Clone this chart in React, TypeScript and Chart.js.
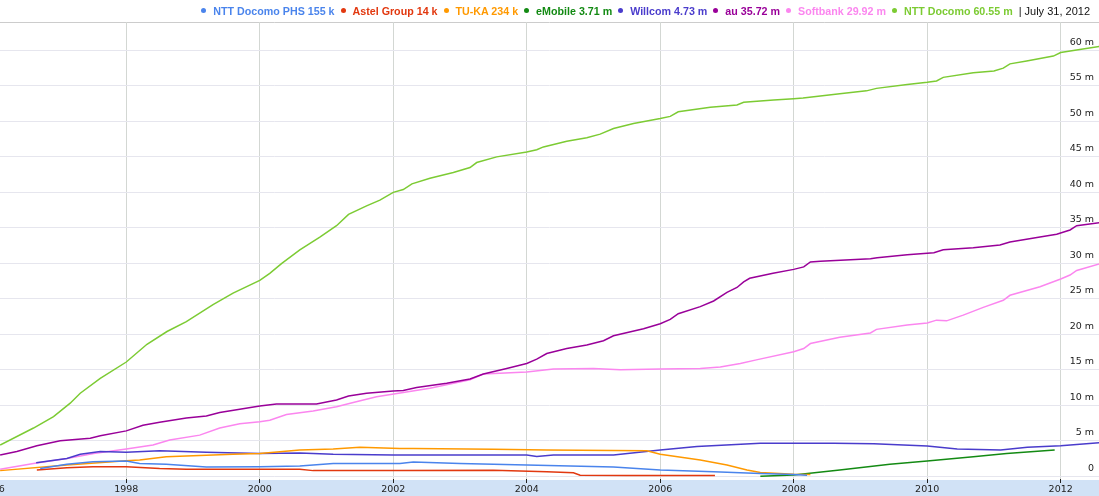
import React, { useEffect, useRef } from "react";
import { Chart, registerables } from "chart.js";

Chart.register(...registerables);

// [year, millions of subscribers]
const docomoPhs: [number, number][] = [
  [1996.71, 1.1], [1997.11, 1.7], [1997.5, 2.05], [1998.0, 2.15], [1998.2, 1.8], [1998.6, 1.7],
  [1999.2, 1.3], [2000.0, 1.35], [2000.6, 1.45], [2001.1, 1.8], [2002.1, 1.8], [2002.3, 2.0],
  [2003.0, 1.8], [2004.0, 1.6], [2005.3, 1.3], [2006.0, 0.9], [2006.8, 0.65], [2007.5, 0.4],
  [2008.0, 0.25], [2008.2, 0.16],
];
const astel: [number, number][] = [
  [1996.66, 0.9], [1997.11, 1.2], [1997.5, 1.35], [1998.0, 1.35], [1998.5, 1.1], [1998.9, 1.0],
  [2000.6, 1.0], [2000.8, 0.8], [2002.1, 0.8], [2003.5, 0.85], [2004.3, 0.65], [2004.7, 0.5],
  [2004.8, 0.15], [2005.5, 0.12], [2006.82, 0.1],
];
const tuka: [number, number][] = [
  [1996.11, 0.8], [1997.11, 1.6], [1998.0, 2.2], [1998.2, 2.3], [1998.6, 2.75], [1999.6, 3.1],
  [2000.0, 3.2], [2000.6, 3.7], [2001.1, 3.85], [2001.5, 4.1], [2002.1, 3.9], [2002.3, 3.9],
  [2003.5, 3.8], [2004.3, 3.7], [2005.8, 3.6], [2006.0, 3.1], [2006.6, 2.3], [2007.0, 1.6],
  [2007.3, 0.9], [2007.5, 0.55], [2008.0, 0.3], [2008.25, 0.25],
];
const emobile: [number, number][] = [
  [2007.5, 0.0], [2008.0, 0.2], [2008.69, 0.9], [2009.44, 1.7], [2010.0, 2.15], [2010.69, 2.76],
  [2011.19, 3.2], [2011.91, 3.71],
];
const willcom: [number, number][] = [
  [1996.65, 1.9], [1997.11, 2.5], [1997.31, 3.1], [1997.61, 3.5], [1998.0, 3.4], [1998.5, 3.6],
  [1999.2, 3.4], [2000.0, 3.2], [2000.6, 3.3], [2001.1, 3.1], [2002.0, 3.0], [2003.0, 3.0],
  [2004.0, 3.0], [2004.15, 2.8], [2004.4, 3.0], [2005.3, 3.0], [2006.0, 3.7], [2006.55, 4.2],
  [2007.5, 4.65], [2008.0, 4.65], [2008.6, 4.65], [2009.2, 4.6], [2010.0, 4.27], [2010.45, 3.85],
  [2011.1, 3.7], [2011.5, 4.1], [2012.0, 4.3], [2012.58, 4.73],
];
const au: [number, number][] = [
  [1996.11, 3.0], [1996.36, 3.5], [1996.66, 4.3], [1997.01, 5.0], [1997.46, 5.35], [1997.61, 5.7],
  [1998.0, 6.4], [1998.25, 7.2], [1998.5, 7.6], [1998.9, 8.2], [1999.2, 8.5], [1999.4, 9.0],
  [2000.0, 9.9], [2000.25, 10.2], [2000.85, 10.2], [2001.15, 10.75], [2001.33, 11.3], [2001.6, 11.7],
  [2002.0, 12.0], [2002.15, 12.1], [2002.35, 12.5], [2002.8, 13.1], [2003.15, 13.7], [2003.35, 14.4],
  [2003.7, 15.2], [2004.0, 15.9], [2004.15, 16.5], [2004.3, 17.3], [2004.6, 18.0], [2004.9, 18.5],
  [2005.15, 19.1], [2005.3, 19.8], [2005.75, 20.8], [2006.0, 21.5], [2006.15, 22.1], [2006.27, 22.9],
  [2006.6, 23.9], [2006.8, 24.7], [2007.0, 25.9], [2007.15, 26.6], [2007.25, 27.4], [2007.34, 27.9],
  [2007.69, 28.6], [2008.0, 29.15], [2008.15, 29.5], [2008.25, 30.2], [2008.4, 30.3], [2009.15, 30.65],
  [2009.25, 30.8], [2009.7, 31.2], [2010.1, 31.5], [2010.24, 31.9], [2010.69, 32.2], [2011.09, 32.6],
  [2011.24, 33.0], [2011.69, 33.7], [2011.94, 34.1], [2012.14, 34.7], [2012.24, 35.3], [2012.58, 35.72],
];
const softbank: [number, number][] = [
  [1996.11, 1.0], [1996.61, 1.8], [1997.11, 2.5], [1997.51, 3.2], [1998.0, 3.85], [1998.4, 4.4],
  [1998.65, 5.1], [1999.1, 5.8], [1999.4, 6.8], [1999.7, 7.4], [2000.0, 7.7], [2000.15, 7.9],
  [2000.4, 8.7], [2000.8, 9.2], [2001.15, 9.8], [2001.4, 10.4], [2001.75, 11.2], [2002.15, 11.8],
  [2002.55, 12.4], [2003.15, 13.6], [2003.35, 14.4], [2004.0, 14.7], [2004.4, 15.1], [2005.0, 15.2],
  [2005.4, 15.0], [2006.0, 15.1], [2006.6, 15.2], [2006.9, 15.4], [2007.2, 15.9], [2007.44, 16.4],
  [2008.0, 17.55], [2008.15, 18.0], [2008.25, 18.7], [2008.69, 19.6], [2009.15, 20.2], [2009.24, 20.7],
  [2009.7, 21.3], [2010.0, 21.6], [2010.14, 22.0], [2010.29, 21.9], [2010.54, 22.7], [2010.84, 23.8],
  [2011.14, 24.8], [2011.24, 25.5], [2011.69, 26.7], [2012.0, 27.8], [2012.14, 28.35], [2012.24, 29.0],
  [2012.58, 29.92],
];
const docomo: [number, number][] = [
  [1996.11, 4.4], [1996.61, 6.8], [1996.91, 8.4], [1997.16, 10.3], [1997.31, 11.7], [1997.61, 13.8],
  [1998.0, 16.1], [1998.31, 18.6], [1998.61, 20.4], [1998.9, 21.8], [1999.3, 24.2], [1999.6, 25.8],
  [2000.0, 27.6], [2000.15, 28.6], [2000.33, 30.0], [2000.6, 31.9], [2000.9, 33.7], [2001.15, 35.3],
  [2001.33, 36.9], [2001.6, 38.1], [2001.8, 38.9], [2002.0, 40.0], [2002.15, 40.4], [2002.28, 41.2],
  [2002.55, 42.0], [2002.9, 42.8], [2003.15, 43.5], [2003.25, 44.2], [2003.55, 45.0], [2004.0, 45.7],
  [2004.15, 46.0], [2004.25, 46.4], [2004.6, 47.2], [2004.9, 47.7], [2005.1, 48.2], [2005.3, 49.0],
  [2005.6, 49.7], [2006.0, 50.4], [2006.15, 50.7], [2006.27, 51.35], [2006.75, 52.0], [2007.15, 52.3],
  [2007.25, 52.7], [2007.7, 53.0], [2008.0, 53.2], [2008.14, 53.3], [2008.69, 53.9], [2009.09, 54.3],
  [2009.24, 54.65], [2009.7, 55.2], [2010.0, 55.5], [2010.14, 55.7], [2010.24, 56.2], [2010.69, 56.85],
  [2011.0, 57.1], [2011.14, 57.5], [2011.24, 58.1], [2011.49, 58.5], [2011.89, 59.2], [2012.0, 59.7],
  [2012.19, 60.0], [2012.58, 60.55],
];

const seriesNames = ["NTT Docomo PHS", "Astel Group", "TU-KA", "eMobile", "Willcom", "au", "Softbank", "NTT Docomo"];
const seriesLatest = ["155 k", "14 k", "234 k", "3.71 m", "4.73 m", "35.72 m", "29.92 m", "60.55 m"];
const seriesData = [docomoPhs, astel, tuka, emobile, willcom, au, softbank, docomo];
const seriesColors = ["#4a84ec", "#e2380f", "#ff9900", "#138a13", "#4a3ccc", "#990099", "#fb86ef", "#7ccb33"];

const yearTicks = [1996, 1998, 2000, 2002, 2004, 2006, 2008, 2010, 2012];
const dateLabel = "July 31, 2012";
const xMin = 1996.108;
const xMax = 2012.574;
const yMin = -0.38;
const yMax = 64;

const bandPlugin = {
  id: "band",
  beforeDraw(chart: any) {
    const { ctx, chartArea, width, height } = chart;
    ctx.save();
    ctx.fillStyle = "#d1e2f6";
    ctx.fillRect(0, chartArea.bottom + 1, width, height - chartArea.bottom - 1);
    ctx.strokeStyle = "#cccccc";
    ctx.lineWidth = 1;
    ctx.beginPath();
    ctx.moveTo(0, chartArea.top + 0.5);
    ctx.lineTo(width, chartArea.top + 0.5);
    ctx.stroke();
    ctx.restore();
  },
};

export default function App() {
  const ref = useRef<HTMLCanvasElement | null>(null);

  useEffect(() => {
    if (!ref.current) return;
    const chart = new Chart(ref.current, {
      type: "line",
      data: {
        datasets: seriesData.map((d, i) => ({
          label: seriesNames[i],
          data: d.map(([x, y]) => ({ x, y })),
          borderColor: seriesColors[i],
          backgroundColor: seriesColors[i],
          borderWidth: 1.5,
          pointRadius: 0,
          tension: 0,
          fill: false,
        })),
      },
      options: {
        animation: false,
        responsive: false,
        maintainAspectRatio: false,
        layout: { padding: { top: 22, left: 0, right: 0, bottom: 0 }, autoPadding: false } as any,
        plugins: { legend: { display: false }, tooltip: { enabled: false } },
        scales: {
          x: {
            type: "linear",
            min: xMin,
            max: xMax,
            afterBuildTicks: (scale: any) => {
              scale.ticks = yearTicks.map((v) => ({ value: v }));
            },
            afterFit: (scale: any) => {
              scale.height = 17;
              scale.paddingLeft = 0;
              scale.paddingRight = 0;
            },
            grid: { color: "#d3d7d3", tickLength: 4, tickColor: "#222", drawTicks: true },
            border: { display: false },
            ticks: {
              autoSkip: false,
              maxRotation: 0,
              padding: 1,
              color: "#222",
              font: { family: "DejaVu Sans", size: 9.5 },
              callback: (v: any) => String(v),
            },
          },
          y: {
            position: "right",
            min: yMin,
            max: yMax,
            afterFit: (scale: any) => {
              scale.width = 0;
              scale.paddingTop = 0;
              scale.paddingBottom = 0;
            },
            grid: { color: "#e6e6ee", drawTicks: false },
            border: { display: false },
            ticks: {
              stepSize: 5,
              includeBounds: false,
              mirror: true,
              padding: -5,
              labelOffset: -8,
              color: "#222",
              font: { family: "DejaVu Sans", size: 9.5 },
              callback: (v: any) => (v === 0 ? "0" : `${v} m`),
            },
          },
        },
      },
      plugins: [bandPlugin],
    });
    return () => chart.destroy();
  }, []);

  return (
    <div style={{ position: "fixed", left: 0, top: 0, width: 1099, height: 496, background: "#fff" }}>
      <canvas ref={ref} width={1099} height={496} style={{ width: 1099, height: 496, display: "block" }} />
      <div
        style={{
          position: "absolute",
          top: 0,
          right: 9,
          height: 21,
          display: "flex",
          alignItems: "center",
          whiteSpace: "nowrap",
          fontFamily: "'Liberation Sans', Arial, sans-serif",
          fontSize: 10.7,
        }}
      >
        {seriesNames.map((n, i) => (
          <span key={n} style={{ display: "flex", alignItems: "center", marginLeft: i === 0 ? 0 : 6 }}>
            <span
              style={{
                width: 5,
                height: 5,
                borderRadius: "50%",
                background: seriesColors[i],
                display: "inline-block",
                marginRight: 7,
              }}
            />
            <span style={{ color: seriesColors[i], fontWeight: "bold" }}>
              {n} {seriesLatest[i]}
            </span>
          </span>
        ))}
        <span style={{ marginLeft: 6, color: "#111", fontSize: 11 }}>| {dateLabel}</span>
      </div>
    </div>
  );
}
